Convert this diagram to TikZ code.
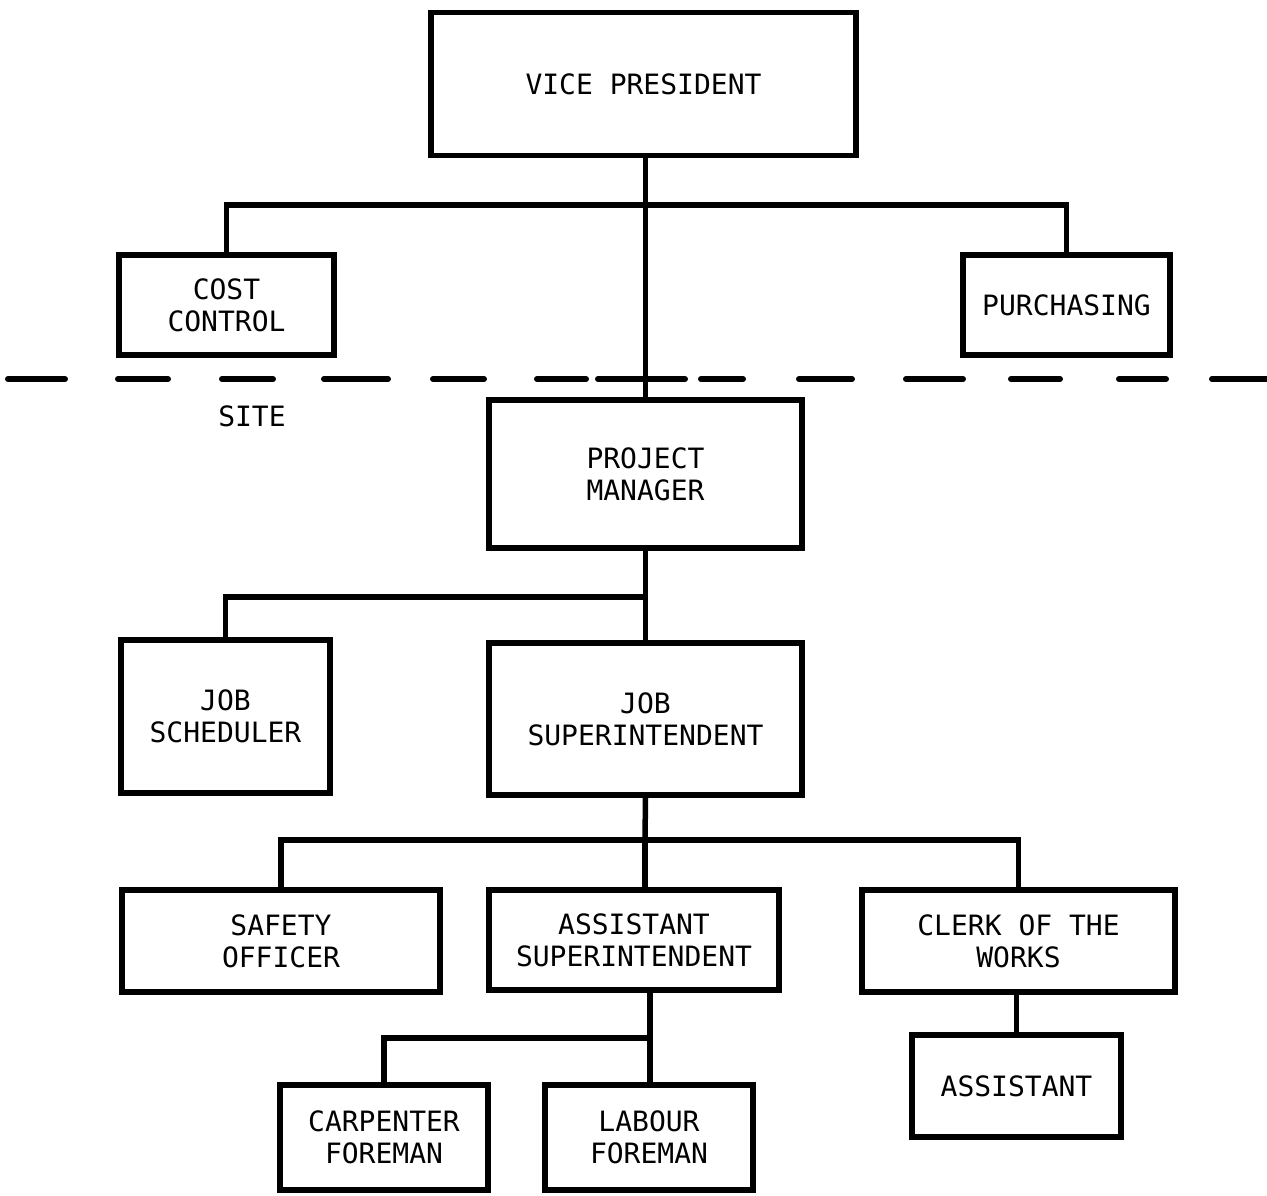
\documentclass[tikz,border=0pt]{standalone}
\usepackage{fontspec}
\newfontfamily\typer{DejaVu Sans Mono}
\begin{document}
\begin{tikzpicture}[x=1pt,y=-1pt,
  box/.style={draw=black, line width=5.5pt, rectangle, inner sep=0pt,
    align=center, font=\typer\fontsize{28}{32}\selectfont},
  link/.style={draw=black, line width=5.5pt, line cap=rect},
  lbl/.style={font=\typer\fontsize{28}{32}\selectfont, inner sep=0pt}]
\useasboundingbox (0,0) rectangle (1267,1195);
\fill[white] (0,0) rectangle (1267,1195);

% boxes
\node[box, minimum width=425pt, minimum height=143pt] (vp) at (643.5,84) {VICE PRESIDENT};
\node[box, minimum width=215pt, minimum height=100pt] (cost) at (226.5,305) {COST\\CONTROL};
\node[box, minimum width=207pt, minimum height=100pt] (purch) at (1066.5,305) {PURCHASING};
\node[box, minimum width=313pt, minimum height=148pt] (pm) at (645.5,474) {PROJECT\\MANAGER};
\node[box, minimum width=209pt, minimum height=153pt] (sched) at (225.5,716.5) {JOB\\SCHEDULER};
\node[box, minimum width=313pt, minimum height=152pt] (jsup) at (645.5,719) {JOB\\SUPERINTENDENT};
\node[box, minimum width=318pt, minimum height=102pt] (safety) at (281,941) {SAFETY\\OFFICER};
\node[box, minimum width=290pt, minimum height=100pt] (asup) at (634,940) {ASSISTANT\\SUPERINTENDENT};
\node[box, minimum width=313pt, minimum height=102pt] (clerk) at (1018.5,941) {CLERK OF THE\\WORKS};
\node[box, minimum width=209pt, minimum height=102pt] (asst) at (1016.5,1086) {ASSISTANT};
\node[box, minimum width=208pt, minimum height=105pt] (carp) at (384,1137.5) {CARPENTER\\FOREMAN};
\node[box, minimum width=208pt, minimum height=105pt] (labour) at (649,1137.5) {LABOUR\\FOREMAN};

% site boundary: hand-ruled dashes
\foreach \a/\b in {8/65, 118/168, 222/273, 324/388, 433/484, 537/586, 598/685,
                   701/743, 799/852, 906/963, 1011/1060, 1119/1166, 1212/1270}
  \draw[line width=6pt, line cap=round] (\a,379) -- (\b,379);
\node[lbl] (site) at (252,416) {SITE};

% branch points
\coordinate (b1) at (645,205);
\coordinate (b2) at (645,597);
\coordinate (b3) at (645,840);
\coordinate (b4) at (650,1038);

% connectors
\draw[link] (pm.north |- vp.south) -- (pm.north);
\draw[link] (cost.north) -- (cost.north |- b1) -- (purch.north |- b1) -- (purch.north);
\draw[link] (pm.south) -- (jsup.north);
\draw[link] (sched.north) -- (sched.north |- b2) -- (b2);
\draw[link] (jsup.south) -- (b3);
\draw[link] (safety.north) -- (safety.north |- b3) -- (clerk.north |- b3) -- (clerk.north);
\draw[link] (b3) -- (b3 |- asup.north);
\draw[link] (b4 |- asup.south) -- (b4 |- labour.north);
\draw[link] (carp.north) -- (carp.north |- b4) -- (b4);
\draw[link] (asst.north |- clerk.south) -- (asst.north);
\end{tikzpicture}
\end{document}
